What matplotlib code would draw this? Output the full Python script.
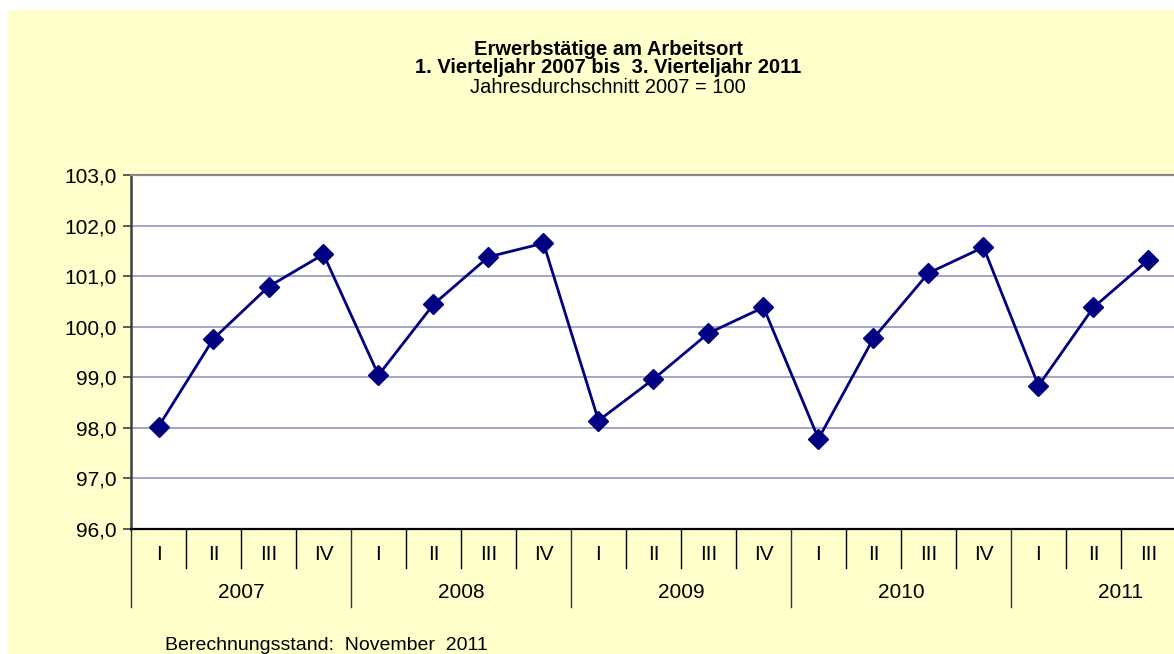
import matplotlib
matplotlib.use("Agg")
import matplotlib.pyplot as plt
from matplotlib.patches import Rectangle
from matplotlib.lines import Line2D

plt.rcParams['font.family'] = ['Liberation Sans', 'DejaVu Sans']

years = ["2007", "2008", "2009", "2010", "2011"]
quarters_per_year = [4, 4, 4, 4, 3]
quarter_names = ["I", "II", "III", "IV"]
values = [98.02, 99.76, 100.79, 101.43,
          99.04, 100.44, 101.38, 101.65,
          98.14, 98.96, 99.87, 100.38,
          97.78, 99.77, 101.06, 101.57,
          98.83, 100.38, 101.32]
y_ticks = [96, 97, 98, 99, 100, 101, 102, 103]

W, H = 1174, 654
fig = plt.figure(figsize=(W / 100, H / 100), dpi=100)
fig.patch.set_facecolor("white")
bg = Rectangle((8 / W, 0), 1 - 8 / W, 1 - 10 / H,
               transform=fig.transFigure, facecolor="#FFFFCC",
               edgecolor="none", zorder=-10)
fig.patches.append(bg)

left, top, bottom = 131, 175, 528.7
ncat = sum(quarters_per_year)
catw = 55.0
right = left + catw * ncat
ax = fig.add_axes([left / W, (H - bottom) / H, (right - left) / W, (bottom - top) / H])
ax.set_facecolor("white")

xs = [i + 0.5 for i in range(ncat)]
ax.plot(xs, values, color="#000080", lw=2.0, marker="D", ms=10,
        mfc="#000080", mec="#000080", zorder=3, clip_on=False)

ax.set_xlim(0, ncat)
ax.set_ylim(96, 103)
ax.set_yticks(y_ticks)
ax.set_yticklabels([f"{v:.1f}".replace(".", ",") for v in y_ticks], fontsize=15)
ax.tick_params(axis="y", direction="out", length=6, width=1.2, color="#404040", pad=4)
ax.set_xticks([])
for v in y_ticks[1:-1]:
    ax.axhline(v, color="#8C8CBE", lw=1.1, zorder=1)

ax.spines["right"].set_visible(False)
ax.spines["top"].set_color("#888888")
ax.spines["top"].set_linewidth(1.6)
ax.spines["left"].set_color("#404040")
ax.spines["left"].set_linewidth(1.8)
ax.spines["bottom"].set_color("black")
ax.spines["bottom"].set_linewidth(1.6)

ph = bottom - top
def yf(py):
    return (bottom - py) / ph

trans = ax.get_xaxis_transform()
idx = 0
for yr, nq in zip(years, quarters_per_year):
    start = idx
    for q in range(nq):
        ax.text(idx + 0.5, yf(554), quarter_names[q], transform=trans,
                ha="center", va="center", fontsize=15)
        if q > 0:
            ax.add_line(Line2D([idx, idx], [0, yf(568)], transform=trans,
                               color="black", lw=1.0, clip_on=False))
        idx += 1
    ax.add_line(Line2D([start, start], [0, yf(607)], transform=trans,
                       color="#333333", lw=1.0, clip_on=False))
    ax.text(start + 2, yf(593), yr, transform=trans,
            ha="center", va="center", fontsize=15)

cx = 608 / W
fig.text(cx, 1 - 55 / H, "Erwerbstätige am Arbeitsort", ha="center", va="baseline",
         fontsize=14.5, fontweight="bold")
fig.text(cx, 1 - 73 / H, "1. Vierteljahr 2007 bis  3. Vierteljahr 2011", ha="center",
         va="baseline", fontsize=14.5, fontweight="bold")
fig.text(cx, 1 - 93 / H, "Jahresdurchschnitt 2007 = 100", ha="center", va="baseline",
         fontsize=14.5)
fig.text(165 / W, 1 - 650 / H, "Berechnungsstand:  November  2011", ha="left",
         va="baseline", fontsize=14)

fig.savefig("out.png", dpi=100, facecolor=fig.get_facecolor())
